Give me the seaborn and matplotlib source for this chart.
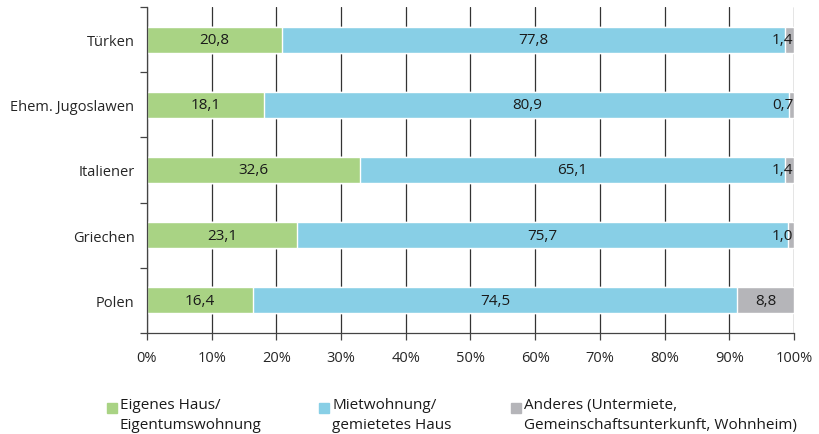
import matplotlib.pyplot as plt
import seaborn as sns
import numpy as np
from matplotlib.patches import Rectangle
from matplotlib.ticker import FixedLocator, PercentFormatter

# data
groups = ["Türken", "Ehem. Jugoslawen", "Italiener", "Griechen", "Polen"]
eigenes = [20.8, 18.1, 32.6, 23.1, 16.4]
miete = [77.8, 80.9, 65.1, 75.7, 74.5]
anderes = [1.4, 0.7, 1.4, 1.0, 8.8]

series_names = ["Eigenes Haus/\nEigentumswohnung",
                "Mietwohnung/\ngemietetes Haus",
                "Anderes (Untermiete,\nGemeinschaftsunterkunft, Wohnheim)"]
colors = ["#a9d384", "#88cfe6", "#b5b5b9"]

sns.set_theme(style="white")
plt.rcParams['font.family'] = ['Open Sans', 'DejaVu Sans']

fig = plt.figure(figsize=(8.2, 4.35), dpi=100)
ax = fig.add_axes([147 / 820, 101 / 435, 647 / 820, 326 / 435])

vals = np.array([eigenes, miete, anderes])
# 100% stacked: scale each row to its total
shares = vals / vals.sum(axis=0) * 100
cum = np.cumsum(shares, axis=0)

# stacked bars: draw cumulative totals from the largest down
for i in range(2, -1, -1):
    sns.barplot(x=cum[i], y=groups, orient="h", color=colors[i],
                width=0.4, saturation=1, ax=ax, zorder=2)

# value labels centred in each segment (tiny ones pushed inside the bar end)
for i in range(3):
    left = cum[i] - shares[i]
    for j, g in enumerate(groups):
        txt = f"{vals[i][j]:.1f}".replace(".", ",")
        if shares[i][j] < 3:
            ax.text(cum[i][j] - 0.1, j, txt, ha="right", va="center",
                    fontsize=11, color="#1a1a1a", zorder=3)
        else:
            ax.text(left[j] + shares[i][j] / 2, j, txt, ha="center", va="center",
                    fontsize=11, color="#1a1a1a", zorder=3)

ax.set_xlim(0, 100)
ax.set_ylim(4.5, -0.5)
ax.xaxis.set_major_locator(FixedLocator(np.arange(0, 101, 10)))
ax.xaxis.set_major_formatter(PercentFormatter(decimals=0))
ax.grid(axis="x", color="#333333", linewidth=0.9, zorder=0)
ax.set_axisbelow(True)

ax.yaxis.set_minor_locator(FixedLocator(np.arange(-0.5, 5, 1)))
ax.tick_params(axis="y", which="major", length=0, pad=9, labelsize=10.5)
ax.tick_params(axis="y", which="minor", length=5, width=0.9, color="#444444", left=True)
ax.tick_params(axis="x", which="major", length=5, width=0.9, color="#444444",
               bottom=True, pad=7, labelsize=10.5)
ax.set_xlabel("")
ax.set_ylabel("")

for s in ["top", "right"]:
    ax.spines[s].set_visible(False)
for s in ["left", "bottom"]:
    ax.spines[s].set_color("#444444")
    ax.spines[s].set_linewidth(0.9)

# legend below the plot
legend_x = [107, 319, 511]
for x, name, c in zip(legend_x, series_names, colors):
    fig.patches.append(Rectangle((x / 820, 1 - 414 / 435), 10 / 820, 10 / 435,
                                 transform=fig.transFigure, color=c))
    fig.text((x + 13) / 820, 1 - 398 / 435, name, ha="left", va="top",
             fontsize=11, linespacing=1.45, color="#1a1a1a")

fig.savefig("out.png", dpi=100)
